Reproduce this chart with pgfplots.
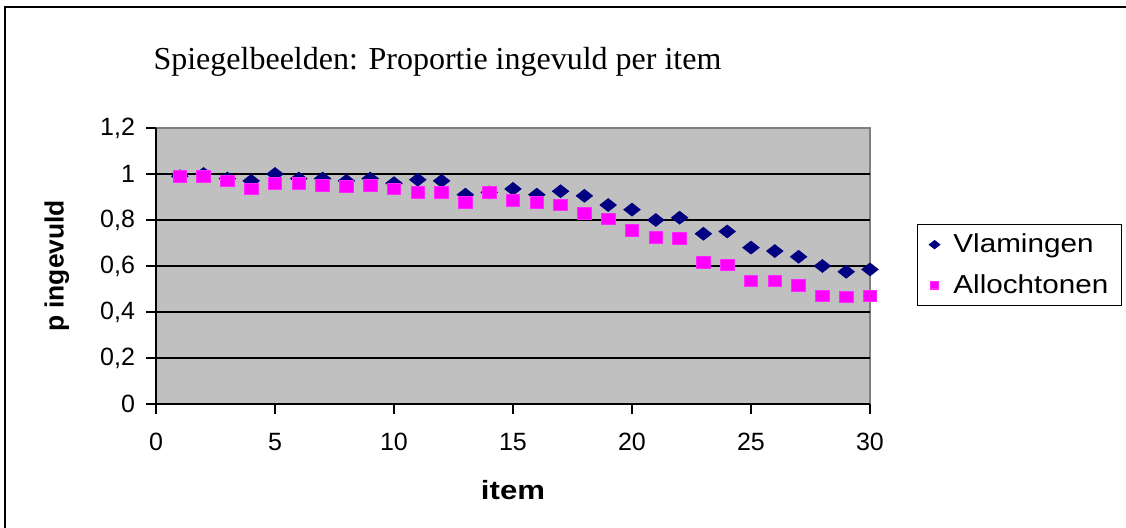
\documentclass[border=0pt]{standalone}
\usepackage{pgfplots}
\pgfplotsset{compat=1.18}
\usepackage{graphicx}
\usepackage{fontspec}
\setmainfont{Liberation Sans}
\newfontfamily\timesfont{Liberation Serif}
\definecolor{plotbg}{HTML}{C0C0C0}
\definecolor{framegray}{HTML}{808080}
\definecolor{navyc}{HTML}{000080}
\definecolor{magc}{HTML}{FF00FF}
\pgfplotstableread{
x y
1 0.99
2 1.00
3 0.98
4 0.97
5 1.00
6 0.98
7 0.98
8 0.97
9 0.98
10 0.96
11 0.975
12 0.97
13 0.91
14 0.92
15 0.935
16 0.91
17 0.925
18 0.905
19 0.865
20 0.845
21 0.80
22 0.81
23 0.74
24 0.75
25 0.68
26 0.665
27 0.64
28 0.60
29 0.575
30 0.585
}\vlamingen
\pgfplotstableread{
x y
1 0.99
2 0.99
3 0.97
4 0.935
5 0.96
6 0.96
7 0.95
8 0.945
9 0.95
10 0.935
11 0.92
12 0.92
13 0.875
14 0.92
15 0.885
16 0.875
17 0.865
18 0.83
19 0.805
20 0.755
21 0.725
22 0.72
23 0.615
24 0.605
25 0.535
26 0.535
27 0.515
28 0.47
29 0.465
30 0.47
}\allochtonen
\begin{document}
\begin{tikzpicture}
\path[use as bounding box] (0,0) rectangle (563pt,264pt);
\draw[line width=1pt] (2.5pt,0) -- (2.5pt,260.5pt) -- (563pt,260.5pt);
\begin{axis}[
  at={(78pt,62pt)}, anchor=south west,
  scale only axis, width=357pt, height=138pt,
  xmin=0, xmax=30, ymin=0, ymax=1.2,
  clip=false,
  axis background/.style={fill=plotbg, draw=framegray, line width=0.8pt},
  axis x line*=bottom, axis y line*=left,
  axis line style={-, black, line width=0.8pt},
  xtick={0,5,...,30},
  ytick={0,0.2,0.4,0.6,0.8,1.0},
  extra y ticks={1.2},
  extra y tick style={grid=none},
  ymajorgrids,
  grid style={black, line width=0.7pt},
  tick align=outside,
  major tick length=5pt,
  tick style={black, line width=0.6pt},
  /pgf/number format/assume math mode=true,
  /pgf/number format/use comma,
  /pgf/number format/fixed,
  ticklabel style={font=\fontsize{12.5}{14}\selectfont},
  xticklabel style={yshift=-6pt},
  yticklabel style={xshift=-2pt},
  xlabel={\scalebox{1.18}[1]{\textbf{item}}},
  ylabel={\textbf{p ingevuld}},
  label style={font=\fontsize{13.2}{15}\selectfont},
  xlabel style={at={(axis description cs:0.5,-0.3116)}, anchor=center},
  ylabel style={at={(axis description cs:-0.1387,0.5)}, anchor=center},
  title={\timesfont Spiegelbeelden: Proportie ingevuld per item},
  title style={at={(axis description cs:-0.004,1.170)}, anchor=base west, font=\fontsize{16}{19}\selectfont, inner sep=0pt},
  legend style={at={(axis description cs:1.0658,0.652)}, anchor=north west,
    draw=black, line width=0.7pt, fill=white,
    font=\fontsize{13}{15}\selectfont, inner xsep=6pt, inner ysep=4pt,
    row sep=8.4pt, column sep=6.5pt,
    nodes={inner xsep=0.5pt, inner ysep=0.5pt}},
  legend cell align=left,
  legend image post style={scale=0.6},
]
\addplot[only marks, mark=diamond*, mark size=3.2pt, mark options={xscale=1.7, fill=navyc, draw=navyc}] table[x=x,y=y] {\vlamingen};
\addlegendentry{\scalebox{1.14}[1]{Vlamingen}}
\addplot[only marks, mark=square*, mark size=3.4pt, mark options={yscale=0.86, fill=magc, draw=magc!85!white}] table[x=x,y=y] {\allochtonen};
\addlegendentry{\scalebox{1.14}[1]{Allochtonen}}
\end{axis}
\end{tikzpicture}
\end{document}
